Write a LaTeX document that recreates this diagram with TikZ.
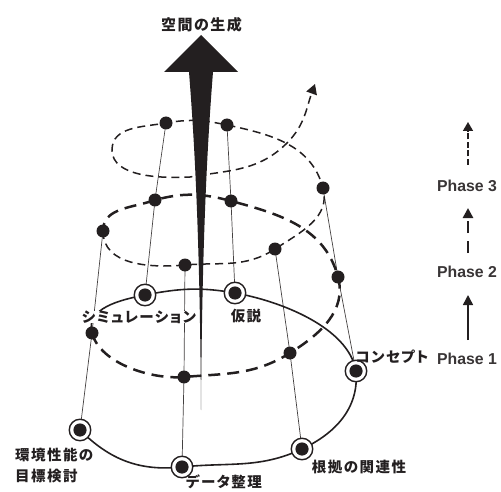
\documentclass[tikz,border=0pt]{standalone}
\usepackage{fontspec}
\newfontfamily\jpf{Noto Sans CJK JP}[RawFeature=+palt,LetterSpace=10]
\newfontfamily\phf{Liberation Sans}
\usetikzlibrary{arrows.meta}
\definecolor{ink}{HTML}{231F20}
\begin{document}
\begin{tikzpicture}[x=1pt,y=1pt,
  dotn/.style={circle,fill=ink,minimum size=13pt,inner sep=0pt},
  ringn/.style={circle,draw=ink,line width=1.4pt,fill=white,minimum size=21.5pt,inner sep=0pt,
    path picture={\fill[ink] (path picture bounding box.center) circle (6.6pt);}},
  gen/.style={draw=ink!85,line width=0.7pt},
  ph1/.style={draw=ink,line width=1.6pt},
  ph2/.style={draw=ink,line width=2.5pt,dash pattern=on 12pt off 7pt},
  ph3/.style={draw=ink,line width=1.5pt,dash pattern=on 8pt off 5pt},
  lab/.style={font=\jpf\bfseries\fontsize{14.5}{16}\selectfont,text=ink,inner sep=0pt},
  phs/.style={font=\phf\bfseries\fontsize{15.8}{18}\selectfont,text=ink!90,inner sep=0pt,anchor=west}
]
\useasboundingbox (0,0) rectangle (501,-492);
% points of the spiral
\coordinate (A1) at (80,-430);  \coordinate (A2) at (182,-467);
\coordinate (A3) at (302,-449); \coordinate (A4) at (356,-371);
\coordinate (A5) at (235,-293); \coordinate (A6) at (145,-295);
\coordinate (B1) at (92,-333);  \coordinate (B2) at (184,-377);
\coordinate (B3) at (290,-353); \coordinate (B4) at (338,-277);
\coordinate (B5) at (231,-201); \coordinate (B6) at (155,-200);
\coordinate (C1) at (103,-231); \coordinate (C2) at (185,-265);
\coordinate (C3) at (275,-249); \coordinate (C4) at (323,-188);
\coordinate (C5) at (227,-125); \coordinate (C6) at (166,-123);
\coordinate (D1) at (112,-150); \coordinate (D2) at (190,-177);
\coordinate (D3) at (287,-143); \coordinate (E)  at (315,-84);
% generator lines
\foreach \i in {1,...,6}{\draw[gen] (A\i) -- (B\i) -- (C\i);}
% phase 1 (solid)
\draw[ph1] (A1) to[out=-45,in=186] (A2) to[out=6,in=205] (A3)
  to[out=25,in=275] (A4) to[out=100,in=350,looseness=0.8] (A5)
  to[out=170,in=11] (A6) to[out=191,in=105] (B1);
% phase 2 (thick dashed)
\draw[ph2] (B1) to[out=285,in=185,looseness=0.8] (B2) to[out=5,in=212] (B3)
  to[out=32,in=285] (B4) to[out=105,in=345] (B5)
  to[out=165,in=15] (B6) to[out=200,in=90] (C1);
% phase 3 (thin dashed)
\draw[ph3,-{Triangle[length=10pt,width=11pt]}] (C1) to[out=270,in=185] (C2)
  to[out=5,in=213] (C3) to[out=33,in=285] (C4) to[out=105,in=348] (C5)
  to[out=168,in=10] (C6) to[out=190,in=90] (D1)
  to[out=270,in=183,looseness=0.85] (D2) to[out=10,in=225] (D3)
  to[out=45,in=250] (E);
% big central arrow
\fill[ink] (164,-72) -- (201,-35) -- (238,-72) -- (213,-72)
  .. controls (206,-160) and (202,-260) .. (201,-410)
  .. controls (200,-260) and (196,-160) .. (189,-72) -- cycle;
% nodes
\foreach \i in {1,...,6}{\node[ringn] (nA\i) at (A\i) {};}
\foreach \i in {1,...,6}{\node[dotn] (nB\i) at (B\i) {};\node[dotn] (nC\i) at (C\i) {};}
% labels
\node[lab,font=\jpf\bfseries\fontsize{15}{16}\selectfont] (title) at (201.5,-25) {空間の生成};
\node[lab,fill=white] (tSim) at (139,-317) {シミュレーション};
\node[lab] (tKa) at (246,-316) {仮説};
\node[lab] (tCon) at (392,-357) {コンセプト};
\node[lab] (tKon) at (359,-467) {根拠の関連性};
\node[lab] (tDat) at (224,-482) {データ整理};
\node[lab,anchor=west] (tKan1) at (15,-455) {環境性能の};
\node[lab,anchor=west] (tKan2) at (15,-476) {目標検討};
% phase legend
\coordinate (P1a) at (468,-340); \coordinate (P1b) at (468,-295);
\coordinate (P2a) at (468,-253); \coordinate (P2b) at (468,-208);
\coordinate (P3a) at (468,-165); \coordinate (P3b) at (468,-122);
\draw[draw=ink,line width=1.5pt,-{Triangle[length=10pt,width=10pt]}] (P1a) -- (P1b);
\draw[draw=ink,line width=2.6pt,dash pattern=on 12pt off 8pt,-{Triangle[length=10pt,width=10pt]}] (P2a) -- (P2b);
\draw[draw=ink,line width=1.6pt,dash pattern=on 6pt off 2.5pt,-{Triangle[length=9pt,width=10pt]}] (P3a) -- (P3b);
\node[phs] (L1) at (437,-359) {Phase 1};
\node[phs] (L2) at (437,-272) {Phase 2};
\node[phs] (L3) at (437,-186) {Phase 3};
\end{tikzpicture}
\end{document}
